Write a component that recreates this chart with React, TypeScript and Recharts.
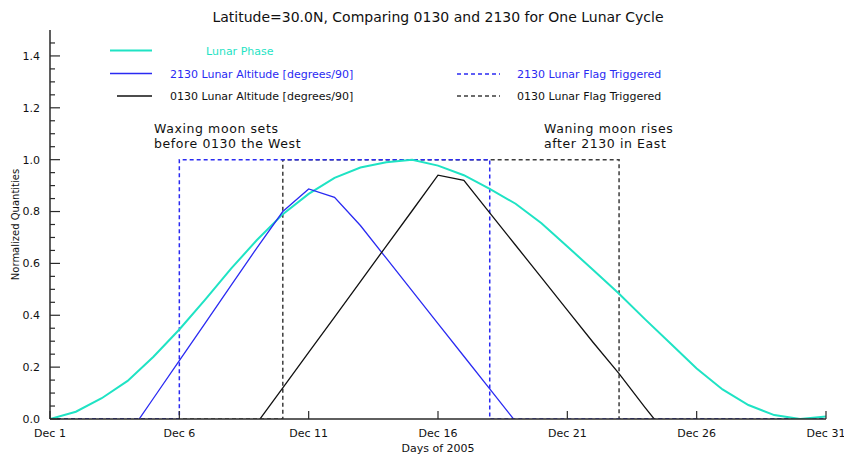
import { LineChart, Line, XAxis, YAxis } from "recharts";

// daily values, Dec 1 .. Dec 31, 2005
const days = [
  1, 2, 3, 4, 5, 6, 7, 8, 9, 10, 11, 12, 13, 14, 15, 16, 17, 18, 19, 20, 21, 22, 23, 24, 25, 26, 27, 28, 29, 30, 31,
];
const lunarPhase = [
  0.0, 0.028, 0.08, 0.147, 0.24, 0.345, 0.46, 0.58, 0.69, 0.79, 0.868, 0.93, 0.97, 0.99, 1.0, 0.977, 0.94, 0.887,
  0.83, 0.755, 0.665, 0.575, 0.483, 0.385, 0.29, 0.195, 0.114, 0.054, 0.015, 0.0, 0.01,
];
// altitude / 90 deg; negative values are below the horizon and fall outside the plot
const alt2130 = [
  -0.45, -0.33, -0.2, -0.065, 0.08, 0.225, 0.37, 0.515, 0.66, 0.8, 0.887, 0.855, 0.746, 0.62, 0.494, 0.368, 0.242,
  0.116, -0.01, -0.14, -0.27, -0.4, -0.52, -0.62, -0.7, -0.75, -0.78, -0.75, -0.68, -0.58, -0.47,
];
const alt0130 = [
  -0.72, -0.76, -0.74, -0.68, -0.6, -0.5, -0.39, -0.26, -0.016, 0.12, 0.257, 0.393, 0.53, 0.667, 0.803, 0.94, 0.92,
  0.795, 0.67, 0.545, 0.42, 0.295, 0.175, 0.045, -0.08, -0.2, -0.32, -0.43, -0.52, -0.6, -0.66,
];
// first and last day the flag is triggered
const flag2130Window = [6, 18];
const flag0130Window = [10, 23];

const xTicks = [1, 6, 11, 16, 21, 26, 31];
const yTicks = [
  0, 0.05, 0.1, 0.15, 0.2, 0.25, 0.3, 0.35, 0.4, 0.45, 0.5, 0.55, 0.6, 0.65, 0.7, 0.75, 0.8, 0.85, 0.9, 0.95, 1.0,
  1.05, 1.1, 1.15, 1.2, 1.25, 1.3, 1.35, 1.4, 1.45,
];
const yLabelTicks = [0, 0.2, 0.4, 0.6, 0.8, 1.0, 1.2, 1.4];

const CYAN = "#1fe3c4";
const BLUE = "#2a2af2";
const BLACK = "#111111";
const GREY = "#3c3c3c";
const AXIS = "#2a2a2a";
const FONT = "'DejaVu Sans', sans-serif";

const rows = days.map((day, i) => ({
  day,
  phase: lunarPhase[i],
  alt2130: alt2130[i],
  alt0130: alt0130[i],
}));

function flagSteps([on, off]: number[]) {
  const first = days[0];
  const last = days[days.length - 1];
  return [
    { day: first, flag: 0 },
    { day: on, flag: 0 },
    { day: on, flag: 1 },
    { day: off, flag: 1 },
    { day: off, flag: 0 },
    { day: last, flag: 0 },
  ];
}

const isMajor = (v: number) => yLabelTicks.some((t) => Math.abs(t - v) < 1e-6);

function BottomTick({ x, y, payload }: any) {
  return (
    <g>
      <line x1={x} y1={y} x2={x} y2={y - 8} stroke={AXIS} strokeWidth={1.2} />
      <text x={x} y={y + 18} textAnchor="middle" fontSize={11} fill="#111" fontFamily={FONT}>
        {`Dec ${payload.value}`}
      </text>
    </g>
  );
}

function TopTick({ x, y }: any) {
  return <line x1={x} y1={y} x2={x} y2={y + 8} stroke={AXIS} strokeWidth={1.2} />;
}

function LeftTick({ x, y, payload }: any) {
  const major = isMajor(payload.value);
  return (
    <g>
      <line x1={x} y1={y} x2={x + (major ? 10 : 5)} y2={y} stroke={AXIS} strokeWidth={1.2} />
      {major && (
        <text x={x - 10} y={y} dy="0.36em" textAnchor="end" fontSize={11} fill="#111" fontFamily={FONT}>
          {payload.value.toFixed(1)}
        </text>
      )}
    </g>
  );
}

function RightTick({ x, y, payload }: any) {
  const major = isMajor(payload.value);
  return <line x1={x} y1={y} x2={x - (major ? 10 : 5)} y2={y} stroke={AXIS} strokeWidth={1.2} />;
}

function Overlay() {
  const t = { fontFamily: FONT } as const;
  const note = { fontSize: 12.5, letterSpacing: 0.6, fill: "#111", fontFamily: FONT } as const;
  return (
    <svg
      width={844}
      height={455}
      style={{ position: "absolute", left: 0, top: 0, pointerEvents: "none" }}
    >
      <text x={438} y={22} textAnchor="middle" fontSize={14} fill="#111" {...t}>
        Latitude=30.0N, Comparing 0130 and 2130 for One Lunar Cycle
      </text>

      <line x1={110} y1={50.5} x2={152} y2={50.5} stroke={CYAN} strokeWidth={2} />
      <text x={206} y={55} fontSize={11} fill={CYAN} {...t}>Lunar Phase</text>
      <line x1={110} y1={73.5} x2={152} y2={73.5} stroke={BLUE} strokeWidth={1.5} />
      <text x={170} y={77.5} fontSize={11} fill={BLUE} {...t}>2130 Lunar Altitude [degrees/90]</text>
      <line x1={117} y1={96} x2={152} y2={96} stroke={BLACK} strokeWidth={1.5} />
      <text x={170} y={100} fontSize={11} fill={BLACK} {...t}>0130 Lunar Altitude [degrees/90]</text>

      <line x1={457} y1={74} x2={500} y2={74} stroke={BLUE} strokeWidth={1.5} strokeDasharray="4 3" />
      <text x={517} y={78} fontSize={11} fill={BLUE} {...t}>2130 Lunar Flag Triggered</text>
      <line x1={457} y1={96} x2={500} y2={96} stroke={GREY} strokeWidth={1.5} strokeDasharray="4 3" />
      <text x={517} y={100} fontSize={11} fill={BLACK} {...t}>0130 Lunar Flag Triggered</text>

      <text x={154} y={132.5} {...note}>Waxing moon sets</text>
      <text x={154} y={147.5} {...note}>before 0130 the West</text>
      <text x={544} y={132.5} {...note}>Waning moon rises</text>
      <text x={544} y={147.5} {...note}>after 2130 in East</text>

      <text
        x={0}
        y={0}
        transform="translate(18.5,224.5) rotate(-90)"
        textAnchor="middle"
        fontSize={10}
        fill="#111"
        {...t}
      >
        Normalized Quantities
      </text>
      <text x={438} y={452} textAnchor="middle" fontSize={11} fill="#111" {...t}>
        Days of 2005
      </text>
    </svg>
  );
}

export default function App() {
  return (
    <div style={{ position: "absolute", left: 0, top: 0, width: 844, height: 455, background: "#fff" }}>
      <LineChart width={844} height={455} data={rows} margin={{ top: 30, right: 18, bottom: 0, left: 0 }}>
        <XAxis
          dataKey="day"
          type="number"
          domain={[1, 31]}
          allowDataOverflow
          ticks={xTicks}
          interval={0}
          height={36}
          tickSize={0}
          tickMargin={0}
          tick={<BottomTick />}
          axisLine={{ stroke: AXIS, strokeWidth: 1.5 }}
        />
        <XAxis
          xAxisId="top"
          orientation="top"
          type="number"
          domain={[1, 31]}
          allowDataOverflow
          ticks={xTicks}
          interval={0}
          height={0}
          tickSize={0}
          tickMargin={0}
          tick={<TopTick />}
          axisLine={{ stroke: AXIS, strokeWidth: 1.5 }}
        />
        <YAxis
          type="number"
          domain={[0, 1.5]}
          allowDataOverflow
          ticks={yTicks}
          interval={0}
          width={50}
          tickSize={0}
          tickMargin={0}
          tick={<LeftTick />}
          axisLine={{ stroke: AXIS, strokeWidth: 1.5 }}
        />
        <YAxis
          yAxisId="right"
          orientation="right"
          type="number"
          domain={[0, 1.5]}
          allowDataOverflow
          ticks={yTicks}
          interval={0}
          width={0}
          tickSize={0}
          tickMargin={0}
          tick={<RightTick />}
          axisLine={{ stroke: AXIS, strokeWidth: 1.5 }}
        />
        <Line
          data={flagSteps(flag0130Window)}
          dataKey="flag"
          type="linear"
          stroke={GREY}
          strokeWidth={1.5}
          strokeDasharray="4 3"
          dot={false}
          isAnimationActive={false}
        />
        <Line
          data={flagSteps(flag2130Window)}
          dataKey="flag"
          type="linear"
          stroke={BLUE}
          strokeWidth={1.5}
          strokeDasharray="4 3"
          dot={false}
          isAnimationActive={false}
        />
        <Line dataKey="phase" type="linear" stroke={CYAN} strokeWidth={2} dot={false} isAnimationActive={false} />
        <Line dataKey="alt2130" type="linear" stroke={BLUE} strokeWidth={1.3} dot={false} isAnimationActive={false} />
        <Line dataKey="alt0130" type="linear" stroke={BLACK} strokeWidth={1.3} dot={false} isAnimationActive={false} />
      </LineChart>
      <Overlay />
    </div>
  );
}
